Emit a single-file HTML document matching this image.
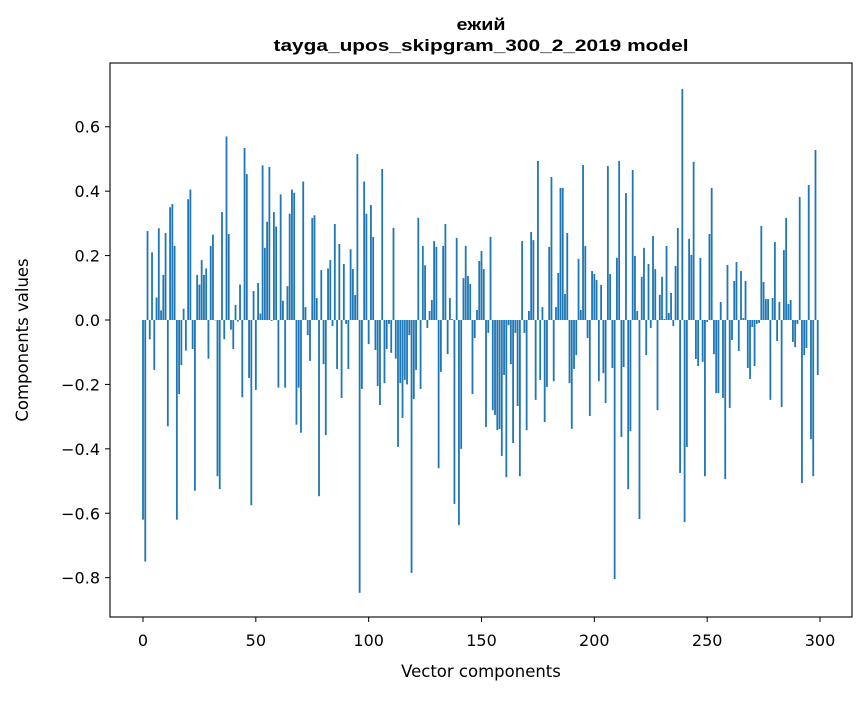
<!DOCTYPE html>
<html><head><meta charset="utf-8"><style>
body{margin:0;background:#fff}
svg text{font-family:"DejaVu Sans","Liberation Sans",sans-serif;fill:#000}
svg text.ttl{font-family:"Liberation Sans",sans-serif}
</style></head><body>
<svg id="chart" width="867" height="696" xmlns="http://www.w3.org/2000/svg">
<rect width="867" height="696" fill="#fff"/>
<text class="ttl" x="481" y="30" font-size="17" font-weight="bold" text-anchor="middle" textLength="49" lengthAdjust="spacingAndGlyphs">ежий</text>
<text class="ttl" x="481" y="51" font-size="17" font-weight="bold" text-anchor="middle" textLength="415" lengthAdjust="spacingAndGlyphs">tayga_upos_skipgram_300_2_2019 model</text>
<g id="bars"></g>
<g id="axes"></g>
<rect x="110" y="63" width="742" height="554" fill="none" stroke="#000" stroke-width="1.1"/>
<text x="481" y="677" font-size="16.5" text-anchor="middle">Vector components</text>
<text x="0" y="0" font-size="16.5" text-anchor="middle" transform="translate(28,340) rotate(-90)">Components values</text>
</svg>
<script>
const values = [
-0.62,-0.75,0.276,-0.06,0.21,-0.155,0.07,0.285,0.03,0.14,
0.27,-0.33,0.35,0.36,0.23,-0.62,-0.23,-0.14,0.035,-0.095,
0.375,0.405,-0.09,-0.53,0.14,0.11,0.186,0.14,0.16,-0.12,
0.23,0.265,0.0,-0.485,-0.525,0.335,-0.06,0.57,0.267,-0.03,
-0.09,0.047,-0.005,0.11,-0.24,0.534,0.453,-0.18,-0.575,0.09,
-0.217,0.115,0.02,0.48,0.224,0.305,0.475,-0.003,0.335,0.29,
-0.21,0.39,0.06,-0.21,0.105,0.33,0.405,0.395,-0.325,-0.21,
-0.35,0.43,0.04,-0.047,-0.127,0.317,0.325,0.068,-0.547,0.155,
-0.137,-0.357,0.16,0.186,-0.019,0.298,-0.152,0.236,-0.242,0.174,
-0.012,-0.152,0.22,0.158,0.078,0.515,-0.847,-0.214,0.43,0.33,
-0.075,0.357,0.258,-0.093,-0.205,-0.264,0.469,-0.196,-0.09,-0.012,
-0.102,0.286,-0.12,-0.394,-0.196,-0.304,-0.186,-0.2,-0.047,-0.785,
-0.245,-0.155,0.317,-0.214,0.23,0.17,-0.025,0.028,0.062,0.245,
0.227,-0.46,-0.161,0.23,0.298,-0.106,0.068,0.003,-0.571,0.255,
-0.637,-0.4,0.13,0.23,0.137,0.112,-0.23,-0.056,0.031,0.183,
0.214,0.158,-0.332,-0.04,0.258,-0.28,-0.295,-0.342,-0.338,-0.422,
-0.171,-0.488,-0.016,-0.137,-0.382,-0.04,-0.267,-0.485,0.245,-0.04,
-0.342,0.028,0.273,0.248,-0.248,0.494,-0.186,0.04,-0.317,-0.208,
0.227,0.444,-0.19,0.04,0.146,0.41,0.41,0.081,0.27,-0.196,
-0.338,-0.152,-0.109,0.19,0.031,0.481,0.23,-0.056,-0.298,0.152,
0.143,0.124,-0.19,0.109,-0.165,-0.258,0.478,0.143,-0.149,-0.804,
0.193,0.494,-0.363,-0.146,0.394,-0.525,-0.345,0.466,0.199,0.028,
-0.618,0.134,0.224,-0.109,0.174,-0.025,0.261,0.158,-0.28,0.078,
0.134,0.003,0.23,0.022,0.084,-0.019,0.168,0.286,-0.475,0.717,
-0.627,-0.394,0.252,0.202,0.491,-0.121,-0.143,0.193,-0.13,-0.485,
-0.006,0.267,0.41,-0.106,-0.227,-0.227,0.056,-0.242,-0.494,0.171,
-0.273,-0.062,0.121,0.18,-0.096,0.152,0.006,0.121,-0.149,-0.183,
-0.022,-0.143,-0.012,-0.009,0.292,0.118,0.065,0.065,-0.248,0.068,
0.242,-0.065,0.056,-0.27,0.217,0.317,0.05,0.062,-0.068,-0.084,
-0.012,0.382,-0.506,-0.109,-0.087,0.419,-0.37,-0.485,0.528,-0.171
];
const xTicks = [0,50,100,150,200,250,300];
const yTicks = [0.6,0.4,0.2,0.0,-0.2,-0.4,-0.6,-0.8];

const NS = "http://www.w3.org/2000/svg";
function xScale(v){return 143 + v*(677/300);}
function yScale(v){return 320 - v*322.1;}
const barsG = document.getElementById('bars');
const barW = 0.8*(677/300);
values.forEach((v,i)=>{
  const r = document.createElementNS(NS,'rect');
  const y0 = yScale(0), y1 = yScale(v);
  r.setAttribute('x', xScale(i)-barW/2);
  r.setAttribute('y', Math.min(y0,y1));
  r.setAttribute('width', barW);
  r.setAttribute('height', Math.max(Math.abs(y1-y0),0.3));
  r.setAttribute('fill', '#1f77b4');
  
  
  barsG.appendChild(r);
});
const axG = document.getElementById('axes');
xTicks.forEach(t=>{
  const x = xScale(t);
  const l = document.createElementNS(NS,'line');
  l.setAttribute('x1',x);l.setAttribute('x2',x);l.setAttribute('y1',617);l.setAttribute('y2',622);
  l.setAttribute('stroke','#000');
  
  
  axG.appendChild(l);
  const tx = document.createElementNS(NS,'text');
  tx.setAttribute('x',x);tx.setAttribute('y',646);tx.setAttribute('font-size','16');tx.setAttribute('text-anchor','middle');
  tx.textContent = t;
  
  
  axG.appendChild(tx);
});
yTicks.forEach(t=>{
  const y = yScale(t);
  const l = document.createElementNS(NS,'line');
  l.setAttribute('x1',105);l.setAttribute('x2',110);l.setAttribute('y1',y);l.setAttribute('y2',y);
  l.setAttribute('stroke','#000');
  
  
  axG.appendChild(l);
  const tx = document.createElementNS(NS,'text');
  tx.setAttribute('x',100);tx.setAttribute('y',y+6);tx.setAttribute('font-size','16');tx.setAttribute('text-anchor','end');
  tx.textContent = (t<0?'\u2212':'') + Math.abs(t).toFixed(1);
  
  
  axG.appendChild(tx);
});
</script>
</body></html>
